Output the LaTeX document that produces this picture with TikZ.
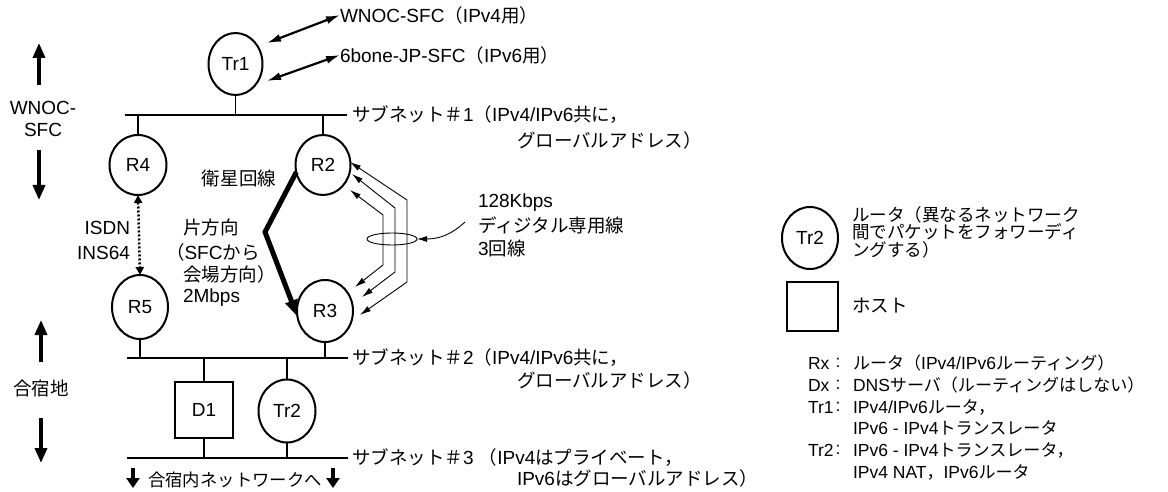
\documentclass[tikz,border=0pt]{standalone}
\usepackage{fontspec}
\setmainfont{Liberation Sans}
\newfontfamily\jpfont[Scale=0.974]{Noto Sans CJK JP}
\newcommand\jtext[1]{{\jpfont #1}}
\usetikzlibrary{arrows.meta,shapes.geometric}

\begin{document}
\begin{tikzpicture}[x=1pt,y=-1pt,
  every node/.style={inner sep=0pt, outer sep=0pt},
  txt/.style={font=\fontsize{19}{23}\selectfont},
  small/.style={font=\fontsize{17.8}{21}\selectfont},
  lgd/.style={font=\fontsize{17.5}{21}\selectfont},
  lgdtop/.style={font=\fontsize{18}{16}\selectfont, align=left},
  router/.style={draw, ellipse, line width=2pt, font=\fontsize{19}{23}\selectfont},
  host/.style={draw, rectangle, line width=2pt, font=\fontsize{19}{23}\selectfont},
  bus/.style={line width=2.8pt},
  stem/.style={line width=1.8pt},
  bigarrow/.style={line width=3.5pt, -{Triangle[length=15pt,width=12pt]}},
  minor/.style={line width=3.2pt, -{Triangle[length=10pt,width=13pt]}},
  dbl/.style={line width=2.2pt, {Latex[length=14pt,width=8pt]}-{Latex[length=14pt,width=8pt]}},
  isdn/.style={line width=2.5pt, dash pattern=on 2pt off 2pt, {Triangle[length=8pt,width=8pt]}-{Triangle[length=8pt,width=8pt]}},
  sat/.style={line width=5pt, line join=miter, -{Triangle[length=17pt,width=12pt]}},
  lease/.style={line width=0.9pt, {Latex[length=11pt,width=6pt]}-{Latex[length=11pt,width=6pt]}},
  thin/.style={line width=0.9pt},
]
\useasboundingbox (0,0) rectangle (1168,492);

% ---------- routers and hosts ----------
\node[router, minimum width=54pt, minimum height=62pt] (Tr1) at (235.5,64) {Tr1};
\node[router, minimum width=57pt, minimum height=60pt] (R4) at (138,165) {R4};
\node[router, minimum width=55pt, minimum height=60pt] (R2) at (323,165) {R2};
\node[router, minimum width=56pt, minimum height=64pt] (R5) at (140,307) {R5};
\node[router, minimum width=56pt, minimum height=62pt] (R3) at (325,311) {R3};
\node[host, minimum width=58pt, minimum height=56pt] (D1) at (204,410) {D1};
\node[router, minimum width=57pt, minimum height=63pt] (Tr2) at (287,411) {Tr2};

% ---------- subnets ----------
\coordinate (b1w) at (125,115); \coordinate (b1e) at (347,115);
\coordinate (b2w) at (127,358); \coordinate (b2e) at (348,358);
\coordinate (b3w) at (127,458); \coordinate (b3e) at (348,458);
\draw[bus] (b1w) -- (b1e);
\draw[bus] (b2w) -- (b2e);
\draw[bus] (b3w) -- (b3e);

\draw[stem] (Tr1.south) -- (Tr1.south |- b1w);
\draw[stem] (R4.north) -- (R4.north |- b1w);
\draw[stem] (R2.north) -- (R2.north |- b1w);
\draw[stem] (R5.south) -- (R5.south |- b2w);
\draw[stem] (R3.south) -- (R3.south |- b2w);
\draw[stem] (D1.north) -- (D1.north |- b2w);
\draw[stem] (Tr2.north) -- (Tr2.north |- b2w);
\draw[stem] (D1.south) -- (D1.south |- b3w);
\draw[stem] (Tr2.south) -- (Tr2.south |- b3w);

\node[txt, anchor=west] (s1) at (352,115) {\jtext{サブネット＃}1\jtext{（}IPv4/IPv6\jtext{共に，}};
\node[txt, anchor=west] (s1b) at (517,140) {\jtext{グローバルアドレス）}};
\node[txt, anchor=west] (s2) at (352,358) {\jtext{サブネット＃}2\jtext{（}IPv4/IPv6\jtext{共に，}};
\node[txt, anchor=west] (s2b) at (517,380) {\jtext{グローバルアドレス）}};
\node[txt, anchor=west] (s3) at (352,458) {\jtext{サブネット＃}3 \jtext{（}IPv4\jtext{はプライベート，}};
\node[txt, anchor=west] (s3b) at (517,478) {IPv6\jtext{はグローバルアドレス）}};

% ---------- upstream links of Tr1 ----------
\node[txt, anchor=west] (wnoc) at (340,15) {WNOC-SFC\jtext{（}IPv4\jtext{用）}};
\node[txt, anchor=west] (sixb) at (340,55) {6bone-JP-SFC\jtext{（}IPv6\jtext{用）}};
\coordinate (t1a) at (267,43);
\coordinate (t1b) at (267,81);
\draw[dbl] (t1a) -- (wnoc.west);
\draw[dbl] (t1b) -- (sixb.west);

% ---------- side labels ----------
\node[txt, align=center, font=\fontsize{19}{22}\selectfont] (side1) at (43,119) {WNOC-\\SFC};
\coordinate (u1s) at (39,85);  \coordinate (u1e) at (39,43);
\coordinate (d1s) at (39,150); \coordinate (d1e) at (39,200);
\draw[bigarrow] (u1s) -- (u1e);
\draw[bigarrow] (d1s) -- (d1e);

\node[txt] (side2) at (41,388) {\jtext{合宿地}};
\coordinate (u2s) at (41,362); \coordinate (u2e) at (41,320);
\coordinate (d2s) at (41,418); \coordinate (d2e) at (41,463);
\draw[bigarrow] (u2s) -- (u2e);
\draw[bigarrow] (d2s) -- (d2e);

\node[small] (inner) at (235,480) {\jtext{合宿内ネットワークへ}};
\coordinate (la) at (133,468); \coordinate (lb) at (133,488);
\coordinate (ra) at (333,468); \coordinate (rb) at (333,488);
\draw[minor] (la) -- (lb);
\draw[minor] (ra) -- (rb);

% ---------- ISDN backup line ----------
\draw[isdn] (R4.south) -- (R5.north);
\node[txt, anchor=east] (isdn1) at (130,228) {ISDN};
\node[txt, anchor=east] (isdn2) at (130,253) {INS64};

% ---------- satellite link ----------
\coordinate (sbend) at (265,232);
\draw[sat] (R2.195) -- (sbend) -- (R3.192);
\node[txt] (satl) at (239,178) {\jtext{衛星回線}};
\node[txt, anchor=west] (sat1) at (183,227) {\jtext{片方向}};
\node[txt, anchor=west] (sat2) at (166,252) {\jtext{（}SFC\jtext{から}};
\node[txt, anchor=west] (sat3) at (183,274) {\jtext{会場方向）}};
\node[txt, anchor=west] (sat4) at (183,298) {2Mbps};

% ---------- three leased lines ----------
\coordinate (o1) at (350,162); \coordinate (o2) at (407,200);
\coordinate (o3) at (407,282); \coordinate (o4) at (360,315);
\coordinate (m1) at (352,174); \coordinate (m2) at (395,208);
\coordinate (m3) at (395,272); \coordinate (m4) at (362,297);
\coordinate (i1) at (350,190); \coordinate (i2) at (383,215);
\coordinate (i3) at (383,265); \coordinate (i4) at (355,287);
\draw[lease] (o4) -- (o3) -- (o2) -- (o1);
\draw[lease] (m4) -- (m3) -- (m2) -- (m1);
\draw[lease] (i4) -- (i3) -- (i2) -- (i1);
\node[draw, thin, ellipse, minimum width=50pt, minimum height=12pt] (bundle) at (392,239) {};
\coordinate (callout) at (465,222);
\draw[thin, -{Latex[length=10pt,width=6pt]}] (callout) .. controls (452,234) and (440,239) .. (bundle.east);
\node[txt, anchor=west] (k1) at (478,203) {128Kbps};
\node[txt, anchor=west] (k2) at (478,225) {\jtext{ディジタル専用線}};
\node[txt, anchor=west] (k3) at (478,248) {3\jtext{回線}};

% ---------- legend ----------
\node[router, minimum width=56pt, minimum height=62pt] (legR) at (810,238) {Tr2};
\node[lgdtop, anchor=west] (legRt) at (852,232) {\jtext{ルータ（異なるネットワーク}\\\jtext{間でパケットをフォワーディ}\\\jtext{ングする）}};
\node[draw, line width=2.4pt, minimum width=51pt, minimum height=49pt] (legH) at (812.5,306.5) {};
\node[txt, anchor=west] (legHt) at (852,306) {\jtext{ホスト}};

\node[lgd, anchor=west] (kRx) at (808,363) {Rx};
\node[lgd, anchor=west] (kDx) at (808,385) {Dx};
\node[lgd, anchor=west] (kT1) at (808,407) {Tr1};
\node[lgd, anchor=west] (kT2) at (808,450) {Tr2};
\node[lgd] (cRx) at (838,363) {:};
\node[lgd] (cDx) at (838,385) {:};
\node[lgd] (cT1) at (838,407) {:};
\node[lgd] (cT2) at (838,450) {:};
\node[lgd, anchor=west] (vRx) at (853,363) {\jtext{ルータ（}IPv4/IPv6\jtext{ルーティング）}};
\node[lgd, anchor=west] (vDx) at (853,385) {DNS\jtext{サーバ（ルーティングはしない）}};
\node[lgd, anchor=west] (vT1) at (853,407) {IPv4/IPv6\jtext{ルータ，}};
\node[lgd, anchor=west] (vT1b) at (853,428) {IPv6 - IPv4\jtext{トランスレータ}};
\node[lgd, anchor=west] (vT2) at (853,450) {IPv6 - IPv4\jtext{トランスレータ，}};
\node[lgd, anchor=west] (vT2b) at (853,472) {IPv4 NAT\jtext{，}IPv6\jtext{ルータ}};
\end{tikzpicture}
\end{document}
